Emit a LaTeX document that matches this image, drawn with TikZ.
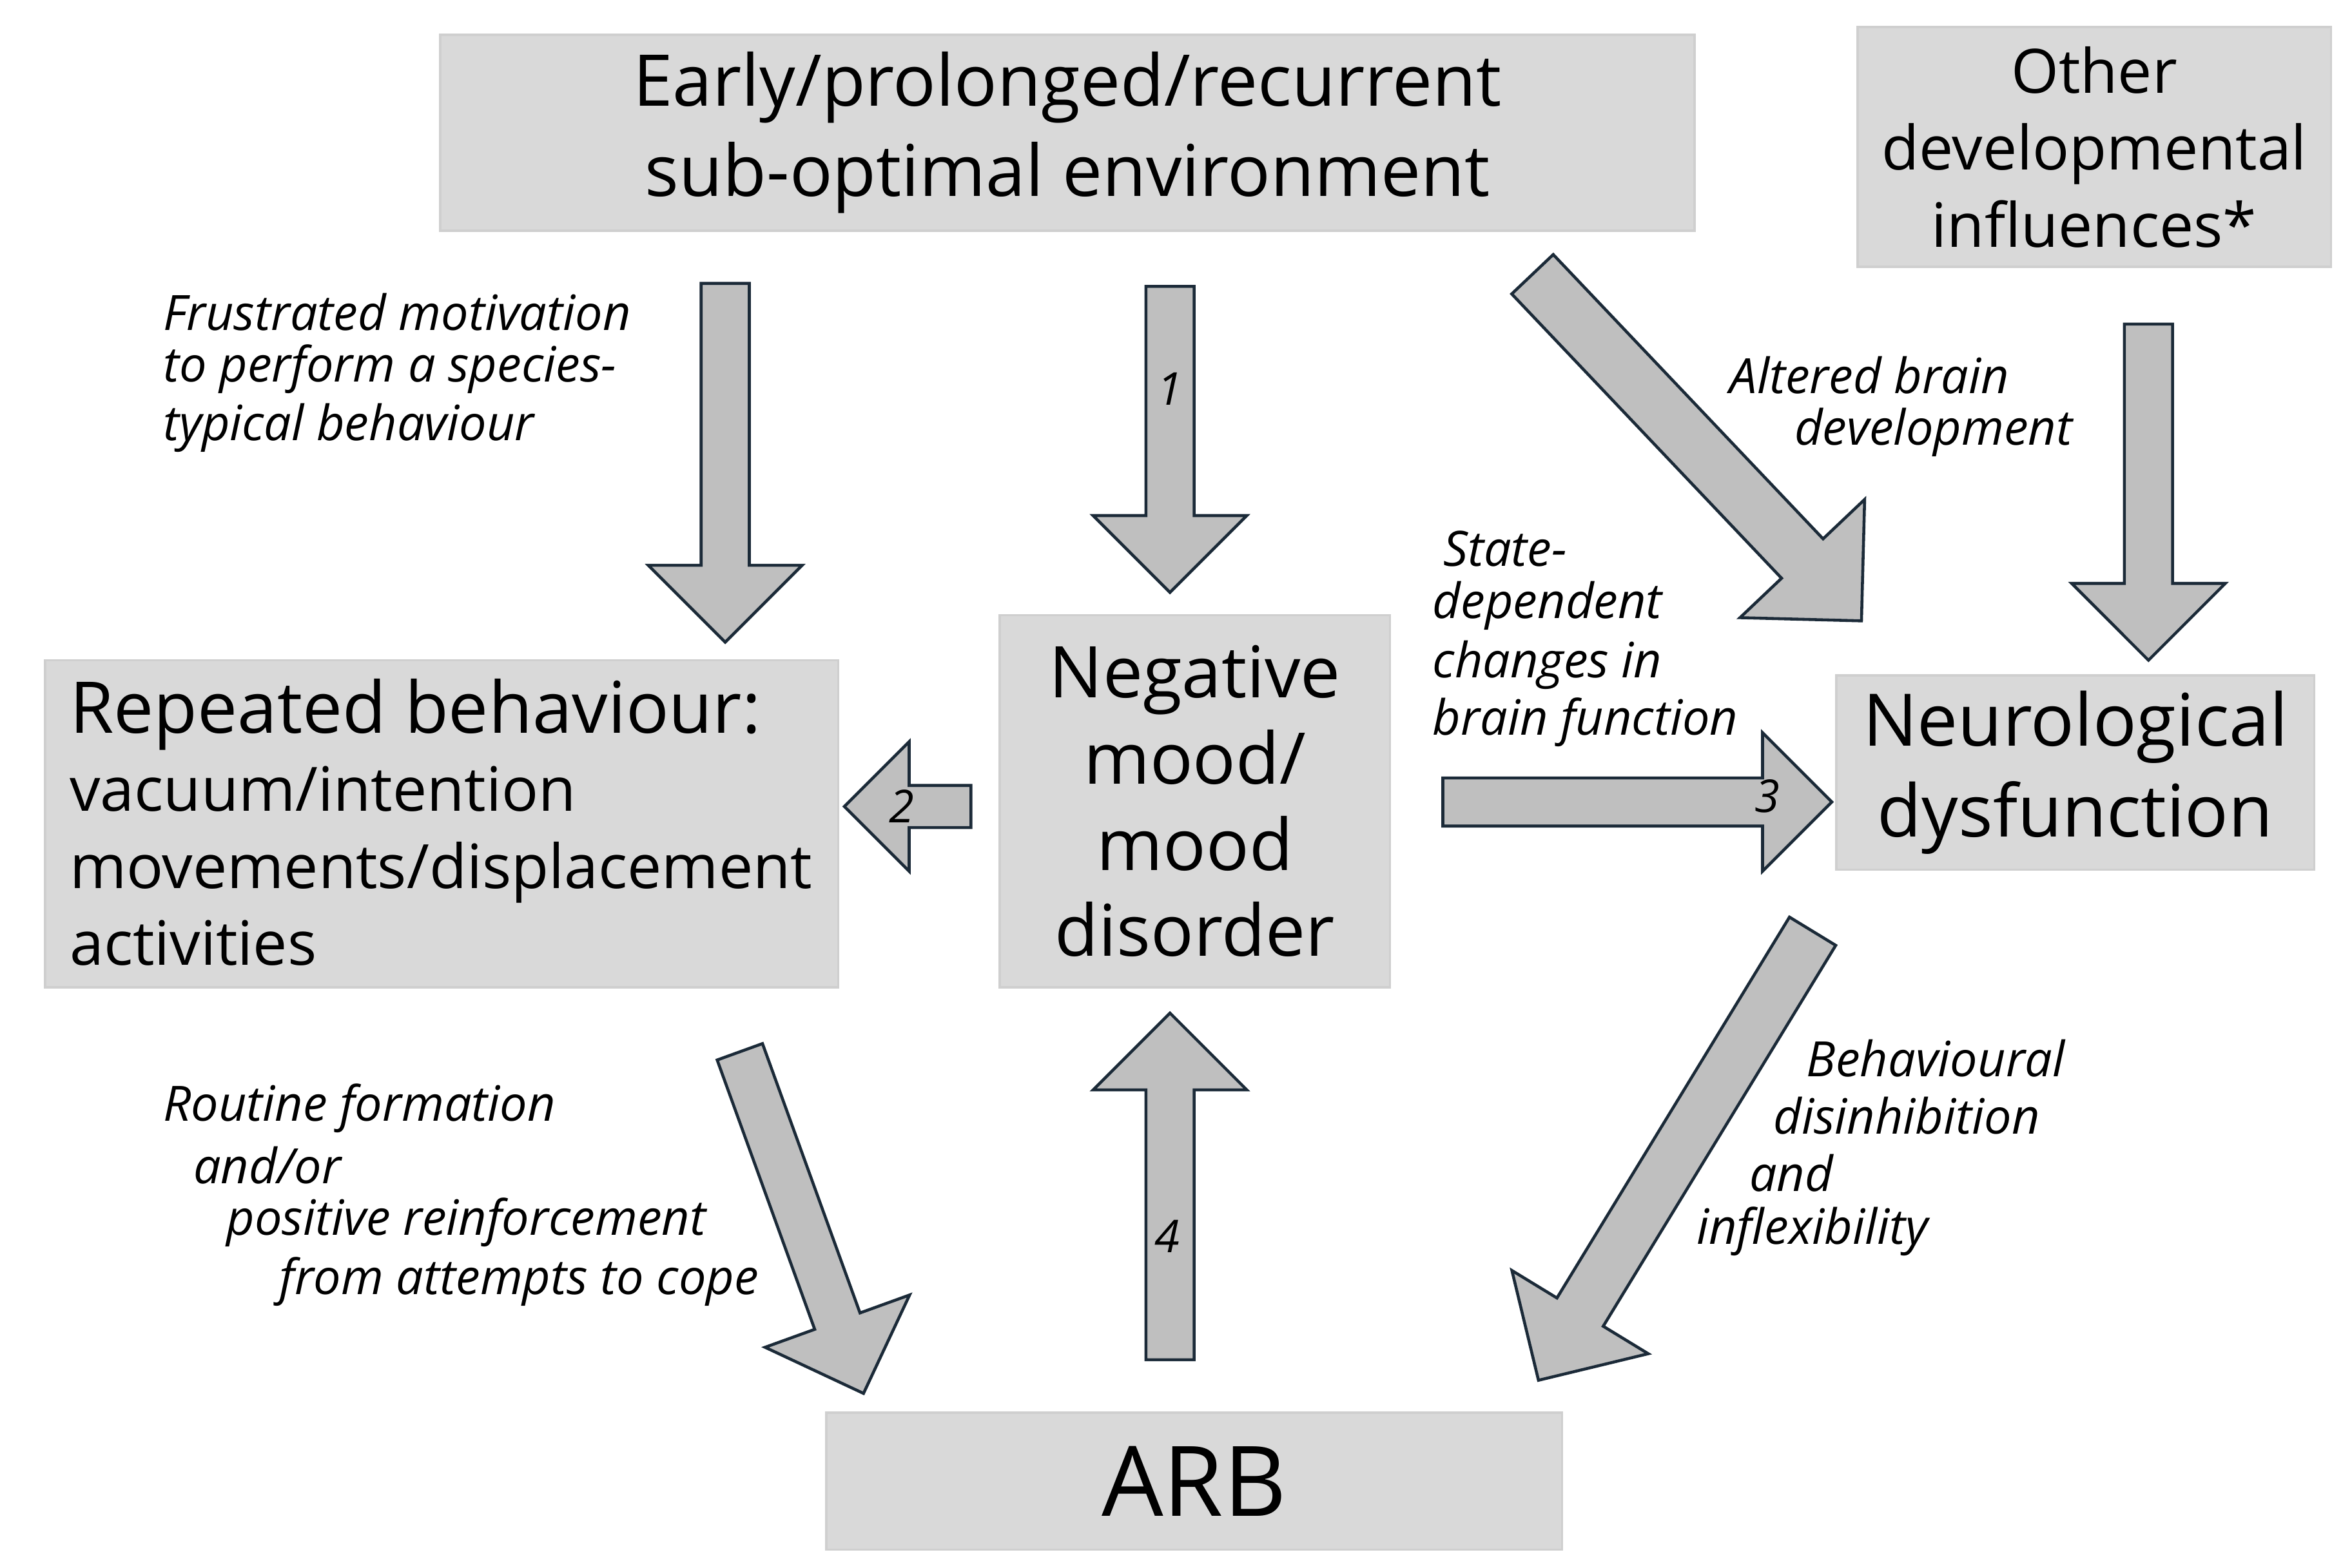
\documentclass[tikz,border=0pt]{standalone}
\usepackage{fontspec}
\setmainfont{Open Sans}
\usetikzlibrary{shapes.arrows}
\definecolor{boxf}{HTML}{D9D9D9}
\definecolor{boxd}{HTML}{CFCFCF}
\definecolor{arrf}{HTML}{BFBFBF}
\definecolor{arrd}{HTML}{1B2A38}
\begin{document}
\begin{tikzpicture}[x=0.02339cm,y=-0.02339cm,
 box/.style={fill=boxf,draw=boxd,line width=1pt,inner sep=0pt},
 big/.style={font=\fontsize{31.5}{40}\selectfont},
 lab/.style={font=\fontsize{21.5}{25}\selectfont\itshape,anchor=west,inner sep=0pt},
 num/.style={font=\fontsize{20}{22}\selectfont\itshape,inner sep=0pt},
 barr/.style={single arrow,fill=arrf,draw=arrd,line width=1.3pt,inner xsep=0pt,inner ysep=15*0.02339cm,
   single arrow tip angle=90,minimum width=#1}]
\useasboundingbox (0,0) rectangle (1560,1040);
% boxes
\node[box,big,minimum width=832*0.02339cm,minimum height=130*0.02339cm,align=center] (env) at (708,88)
  {Early/prolonged/recurrent\\sub-optimal environment};
\node[box,minimum width=314*0.02339cm,minimum height=159*0.02339cm,align=center,font=\fontsize{27}{34}\selectfont] (oth) at (1389,97.5)
  {Other\\developmental\\influences*};
\node[box,minimum width=526*0.02339cm,minimum height=217*0.02339cm] (rep) at (293,546.5) {};
\node[anchor=west,inner sep=0pt,font=\fontsize{31.5}{38}\selectfont] (rept1) at (46,474) {Repeated behaviour:};
\node[anchor=north west,inner sep=0pt,align=left,font=\fontsize{27}{34}\selectfont] (rept2) at (46,508)
  {vacuum/intention\\movements/displacement\\activities};
\node[box,minimum width=259*0.02339cm,minimum height=247*0.02339cm,align=center,font=\fontsize{31.5}{38}\selectfont] (neg) at (792.5,531.5)
  {Negative\\mood/\\mood\\disorder};
\node[box,minimum width=317*0.02339cm,minimum height=129*0.02339cm,align=center,font=\fontsize{32}{40}\selectfont] (neu) at (1376.5,512.5)
  {Neurological\\dysfunction};
\node[box,minimum width=488*0.02339cm,minimum height=91*0.02339cm,font=\fontsize{43}{50}\selectfont] (arb) at (792,982.5) {ARB};
% arrows
\node[barr=100*0.02339cm,minimum height=238*0.02339cm,single arrow head extend=35*0.02339cm,rotate=-90] (a1) at (481,299) {};
\node[barr=100*0.02339cm,minimum height=203*0.02339cm,single arrow head extend=35*0.02339cm,rotate=-90] (a2) at (776,283.5) {};
\node[barr=112*0.02339cm,minimum height=317*0.02339cm,single arrow head extend=38*0.02339cm,rotate=-46.5,inner ysep=18*0.02339cm] (a3) at (1119,290) {};
\node[barr=100*0.02339cm,minimum height=223*0.02339cm,single arrow head extend=35*0.02339cm,rotate=-90] (a4) at (1425,318.5) {};
\node[barr=85*0.02339cm,minimum height=84*0.02339cm,single arrow head extend=29*0.02339cm,rotate=180,inner ysep=13*0.02339cm] (a5) at (609,535) {};
\node[barr=90*0.02339cm,minimum height=258*0.02339cm,single arrow head extend=30*0.02339cm] (a6) at (1078,532) {};
\node[barr=100*0.02339cm,minimum height=241*0.02339cm,single arrow head extend=35*0.02339cm,rotate=-70.1] (a7) at (529,803.5) {};
\node[barr=100*0.02339cm,minimum height=230*0.02339cm,single arrow head extend=35*0.02339cm,rotate=90] (a8) at (776,795) {};
\node[barr=100*0.02339cm,minimum height=349*0.02339cm,single arrow head extend=35*0.02339cm,rotate=-121.4,inner ysep=17*0.02339cm] (a9) at (1116,759) {};
% numbers
\node[num] (n1) at (776,258) {1};
\node[num] (n2) at (598,535) {2};
\node[num] (n3) at (1172,528) {3};
\node[num] (n4) at (774,820) {4};
% labels
\node[lab] (l1a) at (108,207) {Frustrated motivation};
\node[lab] (l1b) at (108,245) {to perform a species-};
\node[lab] (l1c) at (108,284) {typical behaviour};
\node[lab] (l2a) at (1147,249) {Altered brain};
\node[lab] (l2b) at (1190,287) {development};
\node[lab] (l3a) at (957,364) {State-};
\node[lab] (l3b) at (950,402) {dependent};
\node[lab] (l3c) at (950,441) {changes in};
\node[lab] (l3d) at (950,479) {brain function};
\node[lab] (l4a) at (1198,702) {Behavioural};
\node[lab] (l4b) at (1176,740) {disinhibition};
\node[lab] (l4c) at (1160,778) {and};
\node[lab] (l4d) at (1125,817) {inflexibility};
\node[lab] (l5a) at (108,735) {Routine formation};
\node[lab] (l5b) at (128,773) {and/or};
\node[lab] (l5c) at (150,811) {positive reinforcement};
\node[lab] (l5d) at (185,850) {from attempts to cope};
\end{tikzpicture}
\end{document}
